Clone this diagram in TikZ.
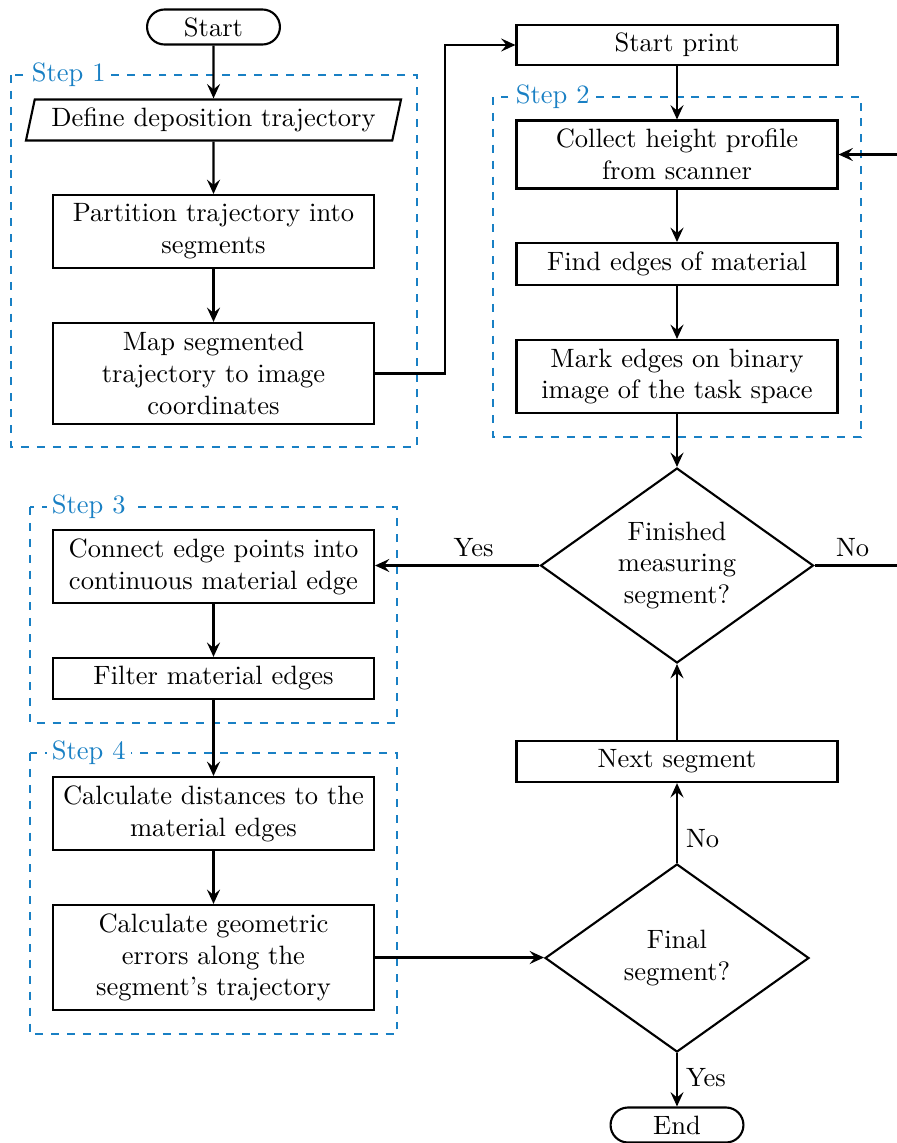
\documentclass[tikz,border=0pt]{standalone}
\usetikzlibrary{arrows.meta,shapes.geometric,calc}
\definecolor{stepblue}{RGB}{25,128,196}
\begin{document}
\begin{tikzpicture}[x=0.377pt,y=-0.377pt,
  box/.style={draw, line width=0.8pt, minimum width=121pt, inner sep=0pt, align=center},
  term/.style={draw, line width=0.8pt, rounded corners=6.6pt, minimum width=50.1pt, minimum height=13.2pt, inner sep=0pt},
  dec/.style={draw, diamond, aspect=1.4, line width=0.8pt, inner sep=0pt, align=center},
  io/.style={draw, trapezium, trapezium left angle=70, trapezium right angle=110, trapezium stretches body=true, line width=0.8pt, minimum width=141.4pt, minimum height=15.5pt, inner sep=0pt},
  arr/.style={line width=0.8pt, -{Stealth[length=5.4pt,width=4.9pt,inset=2pt]}},
  stepframe/.style={draw=stepblue, dashed, line width=0.4pt},
  steplabel/.style={fill=white, text=stepblue, inner sep=2pt, anchor=west},
  lab/.style={inner sep=3pt}]
\useasboundingbox (0,0) rectangle (897,1143);
% frames
\draw[stepframe] (11,75) rectangle (417,447);
\node[steplabel] (s1) at (26,75) {Step 1};
\draw[stepframe] (493,97) rectangle (861,437);
\node[steplabel] (s2) at (510,97) {Step 2};
\draw[stepframe] (30,507) rectangle (397,723);
\node[steplabel] (s3) at (46,507) {Step 3};
\draw[stepframe] (30,753) rectangle (397,1034);
\node[steplabel] (s4) at (46,753) {Step 4};
% nodes
\node[term] (start) at (213.5,27) {Start};
\node[io] (def) at (213.5,120) {Define deposition trajectory};
\node[box, minimum height=27.5pt] (part) at (213.5,231.5) {Partition trajectory into\\segments};
\node[box, minimum height=38.1pt] (map) at (213.5,373.5) {Map segmented\\trajectory to image\\coordinates};
\node[box, minimum height=15.1pt] (sp) at (677,45) {Start print};
\node[box, minimum height=25.6pt] (coll) at (677,154.5) {Collect height profile\\from scanner};
\node[box, minimum height=15.8pt] (find) at (677,264) {Find edges of material};
\node[box, minimum height=27.5pt] (mark) at (677,376.5) {Mark edges on binary\\image of the task space};
\node[dec, minimum width=102.9pt, minimum height=73.5pt] (fin) at (677,565.5) {Finished\\measuring\\segment?};
\node[box, minimum height=27.5pt] (conn) at (213.5,566.5) {Connect edge points into\\continuous material edge};
\node[box, minimum height=15.5pt] (filt) at (213.5,678.5) {Filter material edges};
\node[box, minimum height=27.5pt] (dist) at (213.5,813.5) {Calculate distances to the\\material edges};
\node[box, minimum height=39.6pt] (geo) at (213.5,957.5) {Calculate geometric\\errors along the\\segment's trajectory};
\node[dec, minimum width=99.5pt, minimum height=70.9pt] (fnl) at (677,958) {Final\\segment?};
\node[box, minimum height=15.5pt] (next) at (677,761.5) {Next segment};
\node[term] (end) at (677,1125) {End};
\coordinate (j1) at (445,0);
\coordinate (rr) at (930,0);
% connectors
\draw[arr] (start) -- (def);
\draw[arr] (def) -- (part);
\draw[arr] (part) -- (map);
\draw[arr] (map.east) -- (map.east -| j1) |- (sp.west);
\draw[arr] (sp) -- (coll);
\draw[arr] (coll) -- (find);
\draw[arr] (find) -- (mark);
\draw[arr] (mark) -- (fin);
\draw[arr] (fin.west) -- node[lab, above, pos=0.4] {Yes} (fin.west -| conn.east);
\draw[arr] (fin.east) -- node[lab, above, pos=0.33] {No} (fin.east -| rr) |- (coll.east);
\draw[arr] (conn) -- (filt);
\draw[arr] (filt) -- (dist);
\draw[arr] (dist) -- (geo);
\draw[arr] (geo.east) -- (geo.east -| fnl.west);
\draw[arr] (fnl.north) -- node[lab, right, pos=0.3] {No} (next.south);
\draw[arr] (next.north) -- (fin.south);
\draw[arr] (fnl.south) -- node[lab, right, pos=0.45] {Yes} (end.north);
\end{tikzpicture}
\end{document}
